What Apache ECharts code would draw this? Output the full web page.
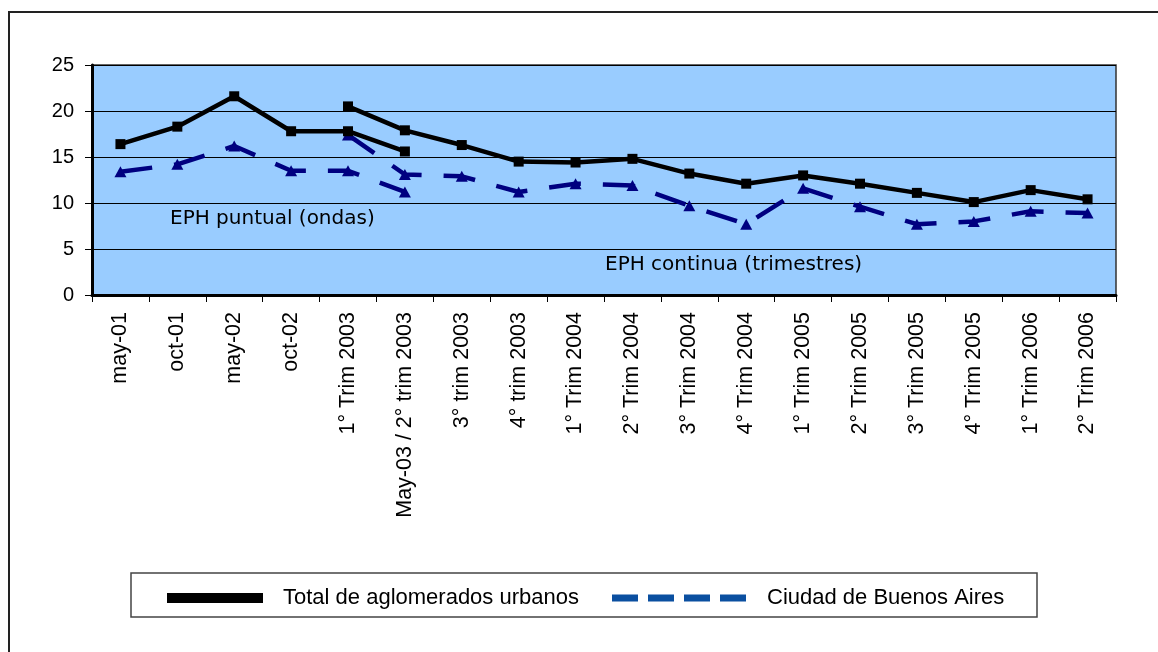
<!DOCTYPE html>
<html>
<head>
<meta charset="utf-8">
<script src="https://cdn.jsdelivr.net/npm/echarts@6/dist/echarts.min.js"></script>
<style>
  html, body { margin: 0; padding: 0; background: #fff; }
  #chart { width: 1158px; height: 652px; }
</style>
</head>
<body>
<div id="chart"></div>
<script>
// categorías del eje X
const categories = [
  'may-01', 'oct-01', 'may-02', 'oct-02', '1° Trim 2003', 'May-03 / 2° trim 2003',
  '3° trim 2003', '4° trim 2003', '1° Trim 2004', '2° Trim 2004', '3° Trim 2004',
  '4° Trim 2004', '1° Trim 2005', '2° Trim 2005', '3° Trim 2005', '4° Trim 2005',
  '1° Trim 2006', '2° Trim 2006'
];

// EPH puntual (ondas)
const totalPuntual = [16.4, 18.3, 21.6, 17.8, 17.8, 15.6, null, null, null, null, null, null, null, null, null, null, null, null];
const cabaPuntual = [13.4, 14.2, 16.2, 13.5, 13.5, 11.2, null, null, null, null, null, null, null, null, null, null, null, null];

// EPH continua (trimestres)
const totalContinua = [null, null, null, null, 20.5, 17.9, 16.3, 14.5, 14.4, 14.8, 13.2, 12.1, 13.0, 12.1, 11.1, 10.1, 11.4, 10.4];
const cabaContinua = [null, null, null, null, 17.4, 13.1, 12.9, 11.2, 12.1, 11.9, 9.7, 7.7, 11.6, 9.6, 7.7, 8.0, 9.1, 8.9];

const NAME_TOTAL = 'Total de aglomerados urbanos';
const NAME_CABA = 'Ciudad de Buenos Aires';

const FONT = '"Liberation Sans", Arial, sans-serif';

const chart = echarts.init(document.getElementById('chart'), null, { renderer: 'canvas' });

const totalSeries = (data) => ({
  name: NAME_TOTAL,
  type: 'line',
  data: data,
  connectNulls: false,
  symbol: 'rect',
  symbolSize: 10,
  z: 3,
  itemStyle: { color: '#000' },
  lineStyle: { color: '#000', width: 4.5 }
});

const cabaSeries = (data) => ({
  name: NAME_CABA,
  type: 'line',
  data: data,
  connectNulls: false,
  symbol: 'triangle',
  symbolSize: [12, 11],
  z: 2,
  itemStyle: { color: '#000080' },
  lineStyle: { color: '#000080', width: 4.5, type: [32, 22] }
});

const option = {
  animation: false,
  backgroundColor: '#fff',
  grid: {
    left: 92,
    top: 65,
    width: 1024,
    height: 230,
    show: true,
    backgroundColor: '#99ccff',
    borderColor: '#333',
    borderWidth: 1.5,
    outerBoundsMode: 'none'
  },
  legend: [
    {
      data: [{ name: NAME_TOTAL, icon: 'rect' }],
      left: 167,
      top: 587,
      padding: 0,
      itemWidth: 96,
      itemHeight: 10,
      itemStyle: { color: '#000', borderWidth: 0 },
      textStyle: { fontFamily: FONT, fontSize: 22, color: '#000', padding: [0, 0, 0, 15] }
    },
    {
      data: [{ name: NAME_CABA, icon: 'path://M0,0h26v7h-26z M36,0h26v7h-26z M72,0h26v7h-26z M108,0h26v7h-26z' }],
      left: 612,
      top: 587,
      padding: 0,
      itemWidth: 134,
      itemHeight: 7,
      itemStyle: { color: '#0a4fa0', borderWidth: 0 },
      textStyle: { fontFamily: FONT, fontSize: 22, color: '#000', padding: [0, 0, 0, 16] }
    }
  ],
  xAxis: {
    type: 'category',
    data: categories,
    boundaryGap: true,
    axisLine: { lineStyle: { color: '#000', width: 3 } },
    axisTick: { show: true, length: 7, lineStyle: { color: '#000', width: 1 } },
    axisLabel: {
      interval: 0,
      rotate: 90,
      margin: 17,
      fontFamily: FONT,
      fontSize: 21.5,
      color: '#000'
    },
    splitLine: { show: false }
  },
  yAxis: {
    type: 'value',
    min: 0,
    max: 25,
    interval: 5,
    axisLine: { show: true, lineStyle: { color: '#000', width: 3 } },
    axisTick: { show: true, length: 7, lineStyle: { color: '#000', width: 1 } },
    axisLabel: { margin: 18, fontFamily: FONT, fontSize: 20, color: '#000' },
    splitLine: { show: true, lineStyle: { color: '#000', width: 1 } }
  },
  graphic: [
    // marco exterior
    {
      type: 'rect',
      z: -10,
      shape: { x: 9, y: 12, width: 1165, height: 660 },
      style: { fill: 'none', stroke: '#222', lineWidth: 2 }
    },
    // caja de la leyenda
    {
      type: 'rect',
      z: -5,
      shape: { x: 131, y: 573, width: 906, height: 44 },
      style: { fill: '#fff', stroke: '#444', lineWidth: 1.5 }
    },
    {
      type: 'text',
      z: 10,
      x: 170,
      y: 219,
      style: { text: 'EPH puntual (ondas)', font: '20px "DejaVu Sans"', fill: '#000', align: 'left', verticalAlign: 'middle' }
    },
    {
      type: 'text',
      z: 10,
      x: 605,
      y: 265,
      style: { text: 'EPH continua (trimestres)', font: '20px "DejaVu Sans"', fill: '#000', align: 'left', verticalAlign: 'middle' }
    }
  ],
  series: [
    totalSeries(totalPuntual),
    totalSeries(totalContinua),
    cabaSeries(cabaPuntual),
    cabaSeries(cabaContinua)
  ]
};

chart.setOption(option);
</script>
</body>
</html>
